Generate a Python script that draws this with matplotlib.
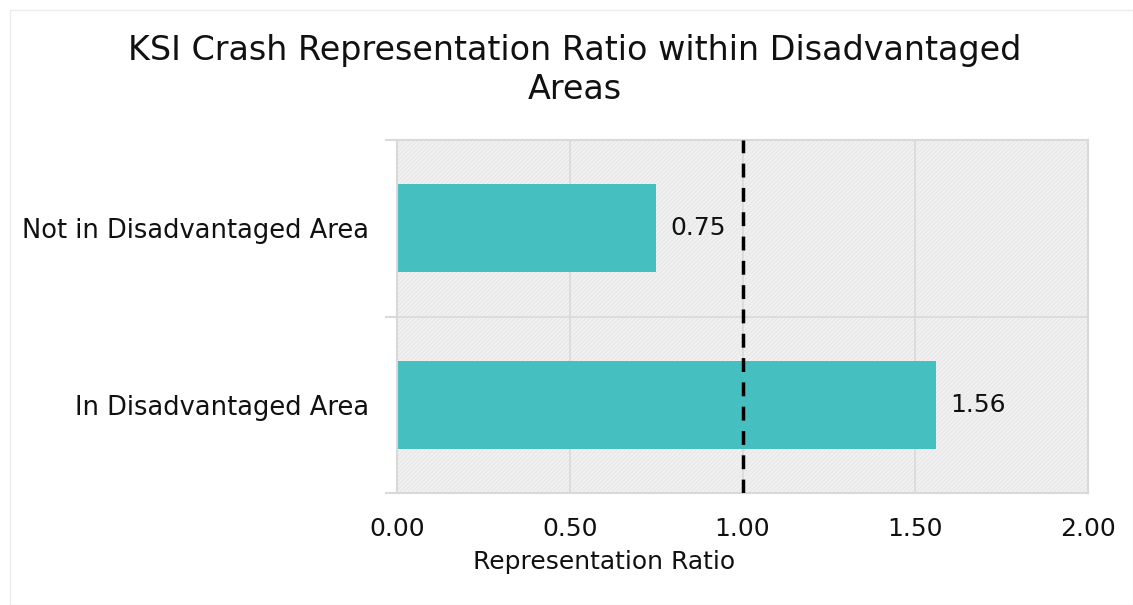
import matplotlib
matplotlib.use("Agg")
import matplotlib.pyplot as plt
from matplotlib.patches import Rectangle

categories = ["In Disadvantaged Area", "Not in Disadvantaged Area"]
values = [1.56, 0.75]
value_labels = ["1.56", "0.75"]
xticks = [0.0, 0.5, 1.0, 1.5, 2.0]
xtick_labels = ["0.00", "0.50", "1.00", "1.50", "2.00"]
reference = 1.0

plt.rcParams['font.family'] = ['DejaVu Sans']
W, H = 1133, 605
fig = plt.figure(figsize=(W/100, H/100), dpi=100)
fig.patches.append(Rectangle((10/W, 0), 1 - 10/W, 1 - 10/H, transform=fig.transFigure,
                             fill=False, edgecolor='#ececec', lw=1))
ax = fig.add_axes([397/W, 1 - 493/H, (1088-397)/W, (493-140)/H])
ax.set_facecolor('#f2f2f2')
ax.add_patch(Rectangle((0, 0), 1, 1, transform=ax.transAxes, facecolor='none',
                       edgecolor='#e8e8e8', hatch='////////', lw=0, zorder=0))

ypos = list(range(len(categories)))
ax.barh(ypos, values, height=0.5, color='#45bfbf', zorder=2)
for y, v, lab in zip(ypos, values, value_labels):
    ax.text(v + 0.04, y, lab, va='center', ha='left', fontsize=18, color='#111111', zorder=3)

ax.axvline(reference, color='black', lw=2.5, ls=(0, (4, 3)), zorder=4)

ax.set_xlim(0, 2)
ax.set_ylim(-0.5, 1.5)
ax.set_xticks(xticks)
ax.set_xticklabels(xtick_labels, fontsize=18, color='#111111')
ax.set_yticks(ypos)
ax.set_yticklabels(categories, fontsize=18.5, color='#111111')
ax.set_yticks([-0.5, 0.5, 1.5], minor=True)
ax.tick_params(axis='y', which='major', length=0, pad=20)
ax.tick_params(axis='y', which='minor', length=9, color='#d9d9d9', width=1.5)
ax.tick_params(axis='x', length=0, pad=17)
ax.grid(True, axis='x', color='#d9d9d9', lw=1.2, zorder=1)
ax.grid(True, axis='y', which='minor', color='#d9d9d9', lw=1.2, zorder=1)
for s in ax.spines.values():
    s.set_color('#d9d9d9')
    s.set_linewidth(1.5)
ax.set_axisbelow(True)

ax.set_xlabel("Representation Ratio", fontsize=18, color='#111111')
ax.xaxis.set_label_coords((604 - 397) / (1088 - 397), -(562 - 493) / (493 - 140))
ax.xaxis.label.set_va('center')
fig.text(575/W, 1 - 70/H, "KSI Crash Representation Ratio within Disadvantaged\nAreas",
         ha='center', va='center', fontsize=24, color='#111111', linespacing=1.2)

fig.savefig("out.png", dpi=100, facecolor='white')
